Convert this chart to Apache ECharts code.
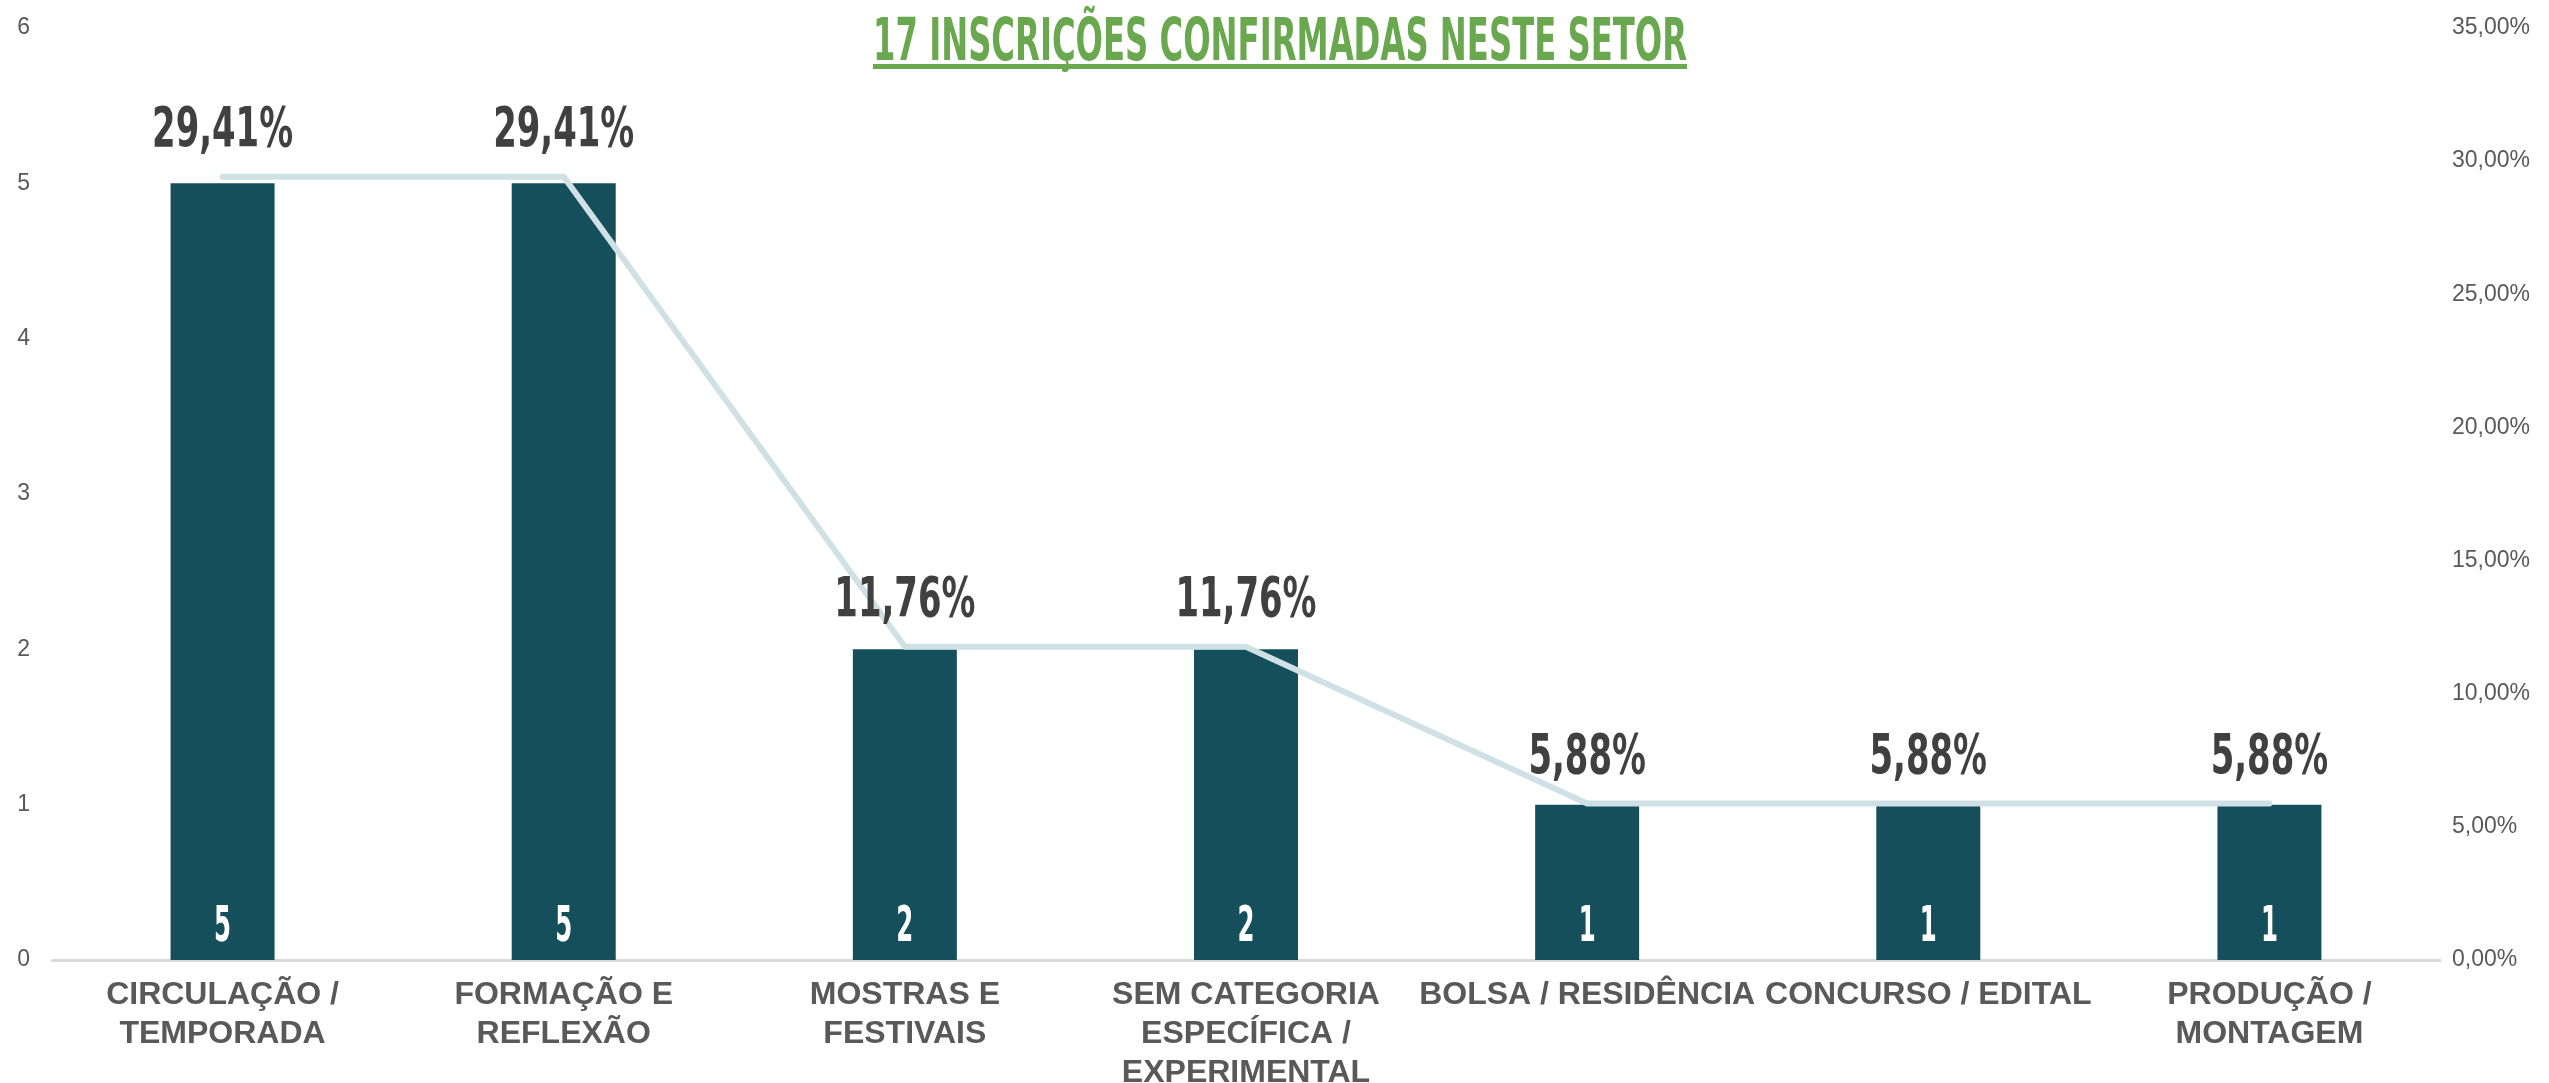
<!DOCTYPE html>
<html>
<head>
<meta charset="utf-8">
<script src="https://cdn.jsdelivr.net/npm/echarts@6/dist/echarts.min.js"></script>
<style>
  html, body { margin: 0; padding: 0; background: #fff; }
  #chart-container { width: 2549px; height: 1083px; }
</style>
</head>
<body>
<div id="chart-container"></div>
<script>
// data
const categories = [
  'CIRCULAÇÃO /\nTEMPORADA',
  'FORMAÇÃO E\nREFLEXÃO',
  'MOSTRAS E\nFESTIVAIS',
  'SEM CATEGORIA\nESPECÍFICA /\nEXPERIMENTAL',
  'BOLSA / RESIDÊNCIA',
  'CONCURSO / EDITAL',
  'PRODUÇÃO /\nMONTAGEM'
];
const counts = [5, 5, 2, 2, 1, 1, 1];
const shares = [29.41, 29.41, 11.76, 11.76, 5.88, 5.88, 5.88];
const titleText = '17 INSCRIÇÕES CONFIRMADAS NESTE SETOR';

const fmtPct = v => v.toFixed(2).replace('.', ',') + '%';

// no condensed display font here, so squeeze the text horizontally to the reference widths
const measureCtx = document.createElement('canvas').getContext('2d');
function squeeze(text, font, targetWidth) {
  measureCtx.font = font;
  return Math.min(1, targetWidth / measureCtx.measureText(text).width);
}
const titleFont = 'bold 58px "DejaVu Sans Condensed", sans-serif';
const titleScale = squeeze(titleText, titleFont, 814);
const pctFont = 'bold 56px "DejaVu Sans Condensed", sans-serif';
const pctScale = squeeze('29,41%', pctFont, 141);
const cntFont = 'bold 50px "DejaVu Sans Condensed", sans-serif';
const cntScale = squeeze('5', cntFont, 17);

const chartContainer = document.getElementById('chart-container');
const myChart = echarts.init(chartContainer, null, { renderer: 'canvas' });

let option = {
  animation: false,
  graphic: [
    {
      type: 'text',
      x: 1280,
      y: 45,
      scaleX: titleScale,
      style: {
        text: titleText,
        font: titleFont,
        fill: '#6aa84f',
        align: 'center',
        verticalAlign: 'middle'
      }
    },
    {
      type: 'rect',
      shape: { x: 873, y: 64, width: 814, height: 5 },
      style: { fill: '#6aa84f' }
    }
  ],
  grid: { left: 52, right: 109, top: 28, bottom: 123, containLabel: false, outerBoundsMode: 'none' },
  xAxis: {
    type: 'category',
    data: categories,
    axisTick: { show: false },
    axisLine: { lineStyle: { color: '#d9d9d9', width: 3 } },
    axisLabel: {
      interval: 0,
      margin: 16,
      fontFamily: '"Liberation Sans", Arial, sans-serif',
      fontWeight: 'bold',
      fontSize: 32,
      lineHeight: 39,
      color: '#595959'
    }
  },
  yAxis: [
    {
      type: 'value',
      min: 0,
      max: 6,
      interval: 1,
      splitLine: { show: false },
      axisLabel: {
        margin: 22,
        fontFamily: '"Liberation Sans", Arial, sans-serif',
        fontSize: 23,
        color: '#595959'
      }
    },
    {
      type: 'value',
      min: 0,
      max: 35,
      interval: 5,
      splitLine: { show: false },
      axisLabel: {
        margin: 12,
        formatter: v => fmtPct(v),
        fontFamily: '"Liberation Sans", Arial, sans-serif',
        fontSize: 23,
        color: '#595959'
      }
    }
  ],
  series: [
    {
      name: 'Inscrições',
      type: 'bar',
      data: counts,
      barWidth: 104,
      itemStyle: { color: '#164f5c' },
      z: 2
    },
    {
      name: 'Percentual',
      type: 'line',
      yAxisIndex: 1,
      data: shares,
      symbol: 'none',
      lineStyle: { color: '#d0e1e5', width: 6, cap: 'round', join: 'round' },
      z: 3
    },
    {
      // count labels inside the bars, sitting on the baseline
      name: 'Inscrições rótulo',
      type: 'custom',
      data: counts.map((c, i) => [i, c]),
      z: 4,
      renderItem: (params, api) => {
        const pt = api.coord([api.value(0), 0]);
        return {
          type: 'text',
          x: pt[0],
          y: pt[1] - 7,
          scaleX: cntScale,
          style: {
            text: String(api.value(1)),
            font: cntFont,
            fill: '#ffffff',
            align: 'center',
            verticalAlign: 'bottom'
          }
        };
      }
    },
    {
      // percentage labels above the line
      name: 'Percentual rótulo',
      type: 'custom',
      yAxisIndex: 1,
      data: shares.map((s, i) => [i, s]),
      z: 4,
      renderItem: (params, api) => {
        const pt = api.coord([api.value(0), api.value(1)]);
        return {
          type: 'text',
          x: pt[0],
          y: pt[1] - 17,
          scaleX: pctScale,
          style: {
            text: fmtPct(api.value(1)),
            font: pctFont,
            fill: '#404040',
            align: 'center',
            verticalAlign: 'bottom'
          }
        };
      }
    }
  ]
};

myChart.setOption(option);
window.addEventListener('resize', myChart.resize);
</script>
</body>
</html>
